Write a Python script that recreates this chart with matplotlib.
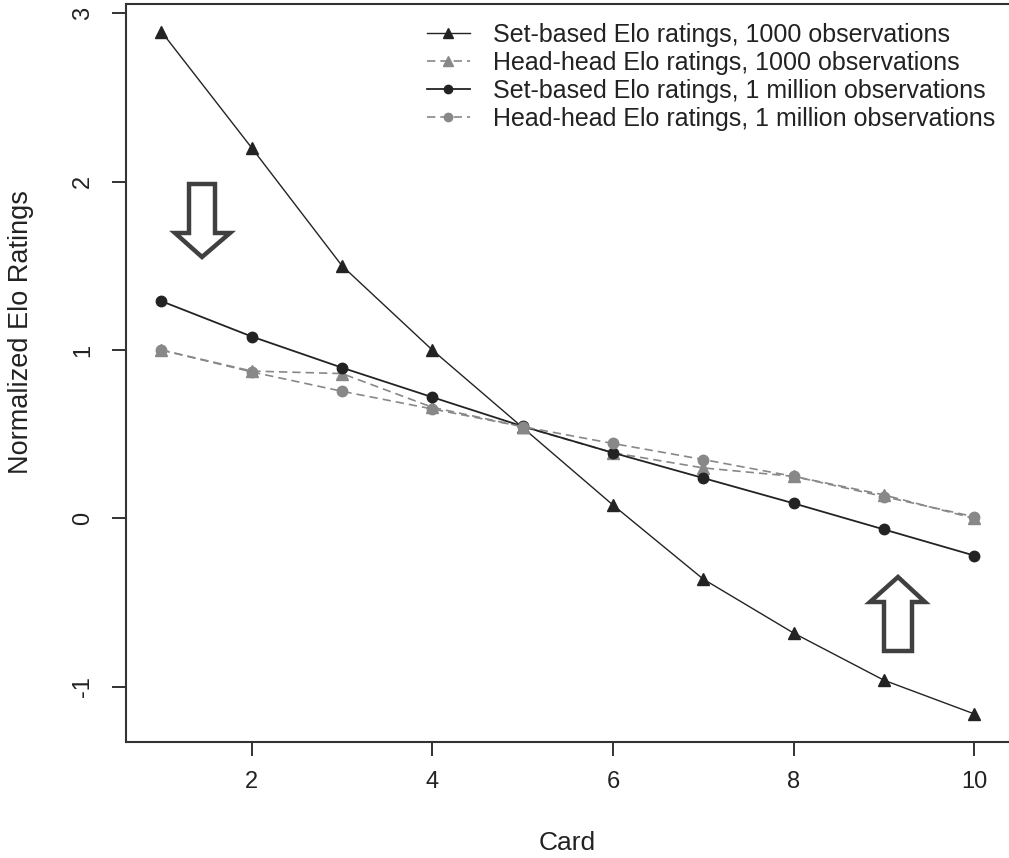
import matplotlib.pyplot as plt
from matplotlib.patches import Polygon

plt.rcParams['font.family'] = ['Liberation Sans', 'DejaVu Sans']

# DATA
cards = [1, 2, 3, 4, 5, 6, 7, 8, 9, 10]
set_1000 = [2.89, 2.20, 1.50, 1.00, 0.54, 0.08, -0.36, -0.68, -0.96, -1.16]
head_1000 = [1.00, 0.875, 0.86, 0.66, 0.545, 0.39, 0.30, 0.25, 0.14, 0.00]
set_1m = [1.29, 1.08, 0.895, 0.72, 0.547, 0.39, 0.24, 0.09, -0.065, -0.22]
head_1m = [1.00, 0.87, 0.755, 0.65, 0.545, 0.445, 0.35, 0.25, 0.13, 0.01]

labels = [
    "Set-based Elo ratings, 1000 observations",
    "Head-head Elo ratings, 1000 observations",
    "Set-based Elo ratings, 1 million observations",
    "Head-head Elo ratings, 1 million observations",
]
xticks = [2, 4, 6, 8, 10]
yticks = [-1, 0, 1, 2, 3]

dark = '#232323'
grey = '#888888'

fig = plt.figure(figsize=(10.09, 8.58), dpi=100)
ax = fig.add_axes([126 / 1009, 1 - 742 / 858, 1 - 126 / 1009, (742 - 4) / 858])

ax.plot(cards, set_1000, color=dark, lw=1.0, marker='^', ms=9, label=labels[0])
ax.plot(cards, head_1000, color=grey, lw=1.2, ls=(0, (5, 3)), marker='^', ms=9, label=labels[1])
ax.plot(cards, set_1m, color=dark, lw=1.3, marker='o', ms=7.5, label=labels[2])
ax.plot(cards, head_1m, color=grey, lw=1.2, ls=(0, (5, 3)), marker='o', ms=7.5, label=labels[3])

ax.set_xlim(0.608, 10.386)
ax.set_ylim(-1.327, 3.054)
ax.set_xticks(xticks)
ax.set_yticks(yticks)
ax.set_yticklabels([str(v) for v in yticks], rotation=90, va='center')
ax.tick_params(length=10, width=1.3, labelsize=17, color='#222222', labelcolor='#222222')
ax.tick_params(axis='x', pad=11)
ax.tick_params(axis='y', pad=13)
ax.spines['right'].set_visible(False)
for s in ['left', 'top', 'bottom']:
    ax.spines[s].set_linewidth(1.5)
    ax.spines[s].set_color('#333333')

fig.text(567 / 1009, 1 - 843 / 858, "Card", fontsize=19, ha='center', va='center', color='#222222')
fig.text(21 / 1009, 1 - 332 / 858, "Normalized Elo Ratings", fontsize=19.5, rotation=90,
         ha='center', va='center', color='#222222')

leg = ax.legend(loc='upper left', bbox_to_anchor=(427 / 1009, 1 - 23 / 858),
                bbox_transform=fig.transFigure, frameon=False, fontsize=18,
                handlelength=1.7, handletextpad=0.95, labelspacing=0.16,
                borderpad=0, borderaxespad=0, markerscale=0.8)
for t in leg.get_texts():
    t.set_color('#222222')

# hollow arrows (annotation)
down = [(189, 184), (215, 184), (215, 233), (230, 233), (202, 257), (175, 233), (189, 233)]
up = [(884, 651), (912, 651), (912, 602), (925, 602), (898, 577), (870, 602), (884, 602)]
for pts in (down, up):
    fig.patches.append(Polygon([(x / 1009, 1 - y / 858) for x, y in pts], closed=True,
                               transform=fig.transFigure, facecolor='white',
                               edgecolor='#404040', lw=3.2, joinstyle='miter'))

fig.savefig("out.png", dpi=100)
